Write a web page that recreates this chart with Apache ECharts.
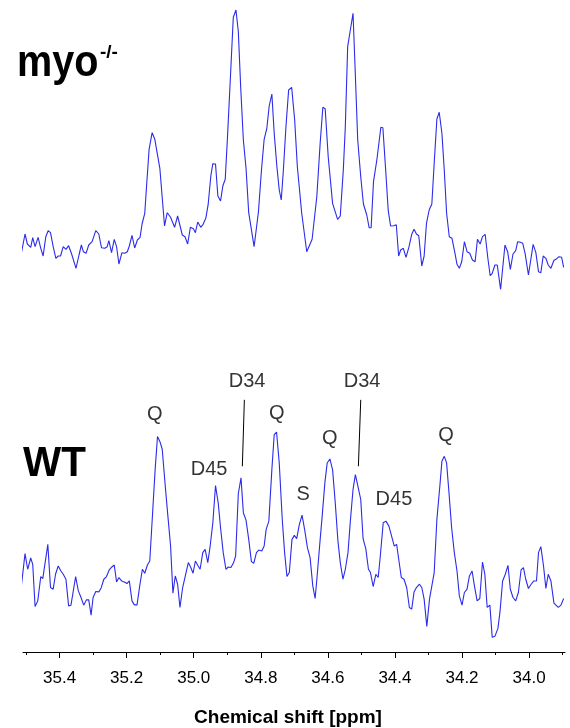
<!DOCTYPE html>
<html>
<head>
<meta charset="utf-8">
<script src="https://cdn.jsdelivr.net/npm/echarts@6/dist/echarts.min.js"></script>
<style>html,body{margin:0;padding:0;background:#fff;}#c{width:570px;height:728px;}</style>
</head>
<body>
<div id="c"></div>
<script>
// ---- data (chemical shift in ppm, intensity in arbitrary units) ----
var myoShift = [35.526,35.513,35.503,35.496,35.486,35.480,35.473,35.464,35.456,35.449,35.441,35.434,35.427,35.419,35.411,35.404,35.397,35.389,35.381,35.373,35.364,35.351,35.342,35.335,35.329,35.321,35.313,35.303,35.292,35.283,35.275,35.265,35.258,35.253,35.245,35.237,35.230,35.223,35.214,35.206,35.198,35.192,35.184,35.176,35.168,35.160,35.154,35.146,35.140,35.133,35.124,35.116,35.101,35.087,35.079,35.069,35.057,35.048,35.034,35.026,35.018,35.010,35.001,34.995,34.988,34.979,34.972,34.964,34.957,34.949,34.943,34.935,34.928,34.920,34.913,34.906,34.899,34.890,34.882,34.874,34.867,34.860,34.852,34.844,34.836,34.820,34.807,34.798,34.790,34.782,34.775,34.767,34.760,34.752,34.745,34.739,34.733,34.725,34.717,34.708,34.699,34.691,34.678,34.663,34.647,34.633,34.623,34.615,34.608,34.599,34.586,34.571,34.563,34.554,34.548,34.541,34.533,34.525,34.519,34.511,34.502,34.494,34.484,34.477,34.471,34.464,34.454,34.442,34.436,34.428,34.420,34.413,34.404,34.396,34.389,34.383,34.375,34.367,34.358,34.350,34.343,34.336,34.329,34.320,34.313,34.306,34.298,34.290,34.283,34.275,34.268,34.260,34.253,34.246,34.238,34.230,34.221,34.215,34.208,34.201,34.193,34.185,34.177,34.169,34.161,34.154,34.146,34.139,34.131,34.123,34.116,34.110,34.102,34.095,34.085,34.072,34.064,34.056,34.048,34.040,34.034,34.026,34.019,34.012,34.002,33.988,33.980,33.972,33.965,33.958,33.950,33.943,33.935,33.926,33.920,33.911,33.903,33.897];
var myoIntensity = [10.7,18.3,36,26,22.7,32.3,23.3,32.7,21.7,14,33.3,39.3,37.3,23.3,11.7,14,14,23.3,20.7,24.3,16,1.7,15,25,18.3,16.7,25,28.3,39.3,36,22.3,21.7,23.3,29.3,17.3,30.7,23.3,6,17.3,16.7,18.3,24,34.7,22,30,32.7,46,56.7,86.7,120.7,137.3,130.7,101.7,44,57.3,52.7,42.7,54,35,33.3,26,42.7,41.3,37.3,48,42.7,45.7,51.7,65.3,94,106.3,106,74,69,84.3,90.7,135,196.7,252.7,260,238.3,183.3,130,101.7,57.3,23.3,58.3,100,130.7,141.7,164,176,136.7,103.3,80,70,98.3,143.3,180,182.7,150,103.3,56.7,18.3,30.7,73.3,126.7,162.7,161.3,113.3,66.7,50.7,54,100,143.3,223.3,240,256.7,203.3,130,93.3,66,55,42.3,42.3,88.3,110,142.7,142.3,101.7,59.3,44,44.3,45.3,14,20,21.7,12.7,23.3,35.7,40.7,36,34.3,4,14,46.7,60,66,106.7,151,157.7,136.7,100,56.7,33.3,31.7,16.7,5.7,1.7,8.3,28.3,18.3,16.7,10,8.3,30.7,26,33.3,35.7,11.7,-5.7,-3.3,5,5,-19.3,25,18.3,0.7,16,19.3,28.3,27.7,26.7,16.7,-5,25.7,17.7,-1.7,-2.7,14,11.7,5,1.7,9.7,10.7,13.3,12.7,2.7];

var wtShift = [35.526,35.518,35.503,35.495,35.486,35.480,35.473,35.465,35.456,35.450,35.443,35.435,35.427,35.419,35.412,35.404,35.396,35.389,35.381,35.373,35.366,35.359,35.352,35.344,35.336,35.328,35.320,35.313,35.306,35.300,35.292,35.283,35.276,35.268,35.260,35.252,35.244,35.237,35.230,35.223,35.215,35.207,35.199,35.192,35.184,35.177,35.169,35.161,35.153,35.146,35.138,35.131,35.122,35.115,35.108,35.101,35.094,35.085,35.077,35.069,35.062,35.055,35.048,35.041,35.033,35.025,35.016,35.009,35.002,34.995,34.988,34.981,34.973,34.966,34.958,34.951,34.943,34.935,34.927,34.920,34.912,34.904,34.897,34.889,34.881,34.875,34.867,34.859,34.852,34.844,34.836,34.828,34.821,34.813,34.806,34.797,34.790,34.784,34.776,34.767,34.760,34.753,34.745,34.736,34.729,34.722,34.715,34.707,34.700,34.693,34.685,34.677,34.669,34.661,34.653,34.645,34.638,34.632,34.623,34.617,34.609,34.602,34.594,34.586,34.578,34.570,34.563,34.555,34.548,34.540,34.533,34.525,34.518,34.510,34.502,34.495,34.487,34.479,34.473,34.465,34.457,34.450,34.444,34.435,34.427,34.418,34.410,34.402,34.395,34.388,34.381,34.373,34.365,34.357,34.350,34.343,34.336,34.327,34.320,34.313,34.305,34.297,34.290,34.283,34.275,34.266,34.260,34.253,34.246,34.239,34.231,34.223,34.215,34.208,34.200,34.193,34.185,34.178,34.170,34.163,34.155,34.147,34.139,34.132,34.125,34.117,34.110,34.102,34.093,34.087,34.079,34.071,34.063,34.056,34.048,34.040,34.032,34.024,34.017,34.010,34.002,33.994,33.986,33.978,33.972,33.965,33.957,33.950,33.943,33.935,33.926,33.920,33.913,33.905,33.897];
var wtIntensity = [36.3,34,78.7,63,74.3,68,25.7,31.3,55.7,53.7,69.7,88,44.7,43,58,66.3,61.3,58,53,26.3,27,41.3,55.7,41.3,34.7,27,32.3,32.3,17,34.7,40.7,40.3,44.3,53,55.7,62.3,65.3,67.3,50.3,54.7,51.3,50.3,48.7,51.3,31.3,27.3,27.3,46.3,63,59,67.3,71.3,123,163,196.3,191.3,183.7,147,116.3,86.3,39,56.3,48,24.7,44.7,56.3,69.7,65,59,71.3,67,63,79.7,83,69.7,86.3,109.7,147,129.7,104.7,79.7,63,65.3,64.7,69.7,76.3,139,154.7,119.7,112.3,93,70.7,69,79.7,82.3,81.3,86.3,103,111.3,163,198,200.7,169.7,113,79.7,55.7,59.7,93,97,93.7,108,117.3,102.3,84.7,74.7,46.3,33.7,56.3,93,116.3,149.7,169.7,173.7,163,129.7,91.3,69.7,53,63,79.7,111.3,143,158,145.7,133,93.7,83.7,63,59.7,45.7,58,54.7,75,109.7,111.3,106.3,96.3,86.3,88,71.3,54.7,53,44.7,24.7,23,40.3,44.7,48,44.7,33,5.7,33,46.3,59.7,113,147,171.3,176.3,169.7,140.3,104.7,79.7,61.3,36.3,27,39.7,43,56.3,61.3,46.3,31.3,33.7,70.3,58,24.7,27,-5.3,-4.3,3.7,19.7,51.3,58,67,43,34.7,31.3,39.7,62.3,64.7,53,43.7,48,51.3,51.3,79.7,85.7,66.3,43.7,58,51.3,29,27,24.7,27,33.7];

var majorTicks = [35.4, 35.2, 35.0, 34.8, 34.6, 34.4, 34.2, 34.0];
var minorTicks = [35.5, 35.3, 35.1, 34.9, 34.7, 34.5, 34.3, 34.1, 33.9];

var peakLabels = ['Q', 'D45', 'D34', 'Q', 'S', 'Q', 'D34', 'D45', 'Q'];
var peakLabelShift = [35.116, 34.954, 34.841, 34.752, 34.674, 34.594, 34.498, 34.403, 34.248];
var peakLabelHeight = [218, 163, 251, 219, 138, 194, 251, 133, 197];

var leaderShift = [[34.849, 34.855], [34.502, 34.509]];
var leaderHeight = [233, 166.3];

var axisTitle = 'Chemical shift [ppm]';
var FONT = '"Liberation Sans", Arial, Helvetica, sans-serif';
var BLUE = '#2b2bea';

function pairs(xs, ys) { return xs.map(function (x, i) { return [x, ys[i]]; }); }

var chart = echarts.init(document.getElementById('c'), null, { renderer: 'canvas' });

var xRange = { min: 33.893, max: 35.509, inverse: true };

var series = [
  { type: 'line', name: 'myo', xAxisIndex: 0, yAxisIndex: 0, data: pairs(myoShift, myoIntensity),
    showSymbol: false, clip: false, lineStyle: { color: BLUE, width: 1.1 }, animation: false },
  { type: 'line', name: 'WT', xAxisIndex: 1, yAxisIndex: 1, data: pairs(wtShift, wtIntensity),
    showSymbol: false, clip: false, lineStyle: { color: BLUE, width: 1.1 }, animation: false },
  { type: 'scatter', xAxisIndex: 1, yAxisIndex: 1, symbolSize: 1, itemStyle: { color: 'transparent' },
    data: peakLabels.map(function (n, i) { return { name: n, value: [peakLabelShift[i], peakLabelHeight[i]] }; }),
    label: { show: true, position: 'inside', formatter: '{b}', color: '#000', fontFamily: FONT, fontSize: 20 },
    animation: false, silent: true }
];
leaderShift.forEach(function (xs) {
  series.push({ type: 'line', xAxisIndex: 1, yAxisIndex: 1, data: pairs(xs, leaderHeight),
    showSymbol: false, clip: false, lineStyle: { color: '#000', width: 1 }, animation: false, silent: true });
});

chart.setOption({
  backgroundColor: '#fff',
  animation: false,
  grid: [
    { left: 23, right: 5, top: 10, height: 300 },
    { left: 23, right: 5, top: 353, height: 300 }
  ],
  xAxis: [
    Object.assign({ type: 'value', gridIndex: 0, show: false }, xRange),
    Object.assign({ type: 'value', gridIndex: 1, position: 'bottom',
      axisLine: { show: true, onZero: false, lineStyle: { color: '#000', width: 1 } },
      axisTick: { show: true, customValues: majorTicks, length: 6, lineStyle: { color: '#000' } },
      axisLabel: { show: true, customValues: majorTicks, margin: 18, color: '#000', fontFamily: FONT, fontSize: 17,
        formatter: function (v) { return v.toFixed(1); } },
      splitLine: { show: false },
      name: axisTitle, nameLocation: 'middle', nameGap: 56,
      nameTextStyle: { color: '#000', fontFamily: FONT, fontSize: 19, fontWeight: 'bold', padding: [0, 12, 0, 0] } }, xRange),
    Object.assign({ type: 'value', gridIndex: 1, position: 'bottom',
      axisLine: { show: false, onZero: false },
      axisTick: { show: true, customValues: minorTicks, length: 3, lineStyle: { color: '#000' } },
      axisLabel: { show: false }, splitLine: { show: false } }, xRange)
  ],
  yAxis: [
    { type: 'value', gridIndex: 0, min: -40, max: 260, show: false },
    { type: 'value', gridIndex: 1, min: -20, max: 280, show: false }
  ],
  graphic: [
    { type: 'text', x: 17, y: 64, scaleX: 0.88, style: { text: 'myo', fill: '#000', font: 'bold 45px ' + FONT, verticalAlign: 'middle' } },
    { type: 'text', x: 100, y: 53, style: { text: '-/-', fill: '#000', font: 'bold 19px ' + FONT, verticalAlign: 'middle' } },
    { type: 'text', x: 23, y: 464, scaleX: 0.94, style: { text: 'WT', fill: '#000', font: 'bold 43px ' + FONT, verticalAlign: 'middle' } }
  ],
  series: series
});
</script>
</body>
</html>
